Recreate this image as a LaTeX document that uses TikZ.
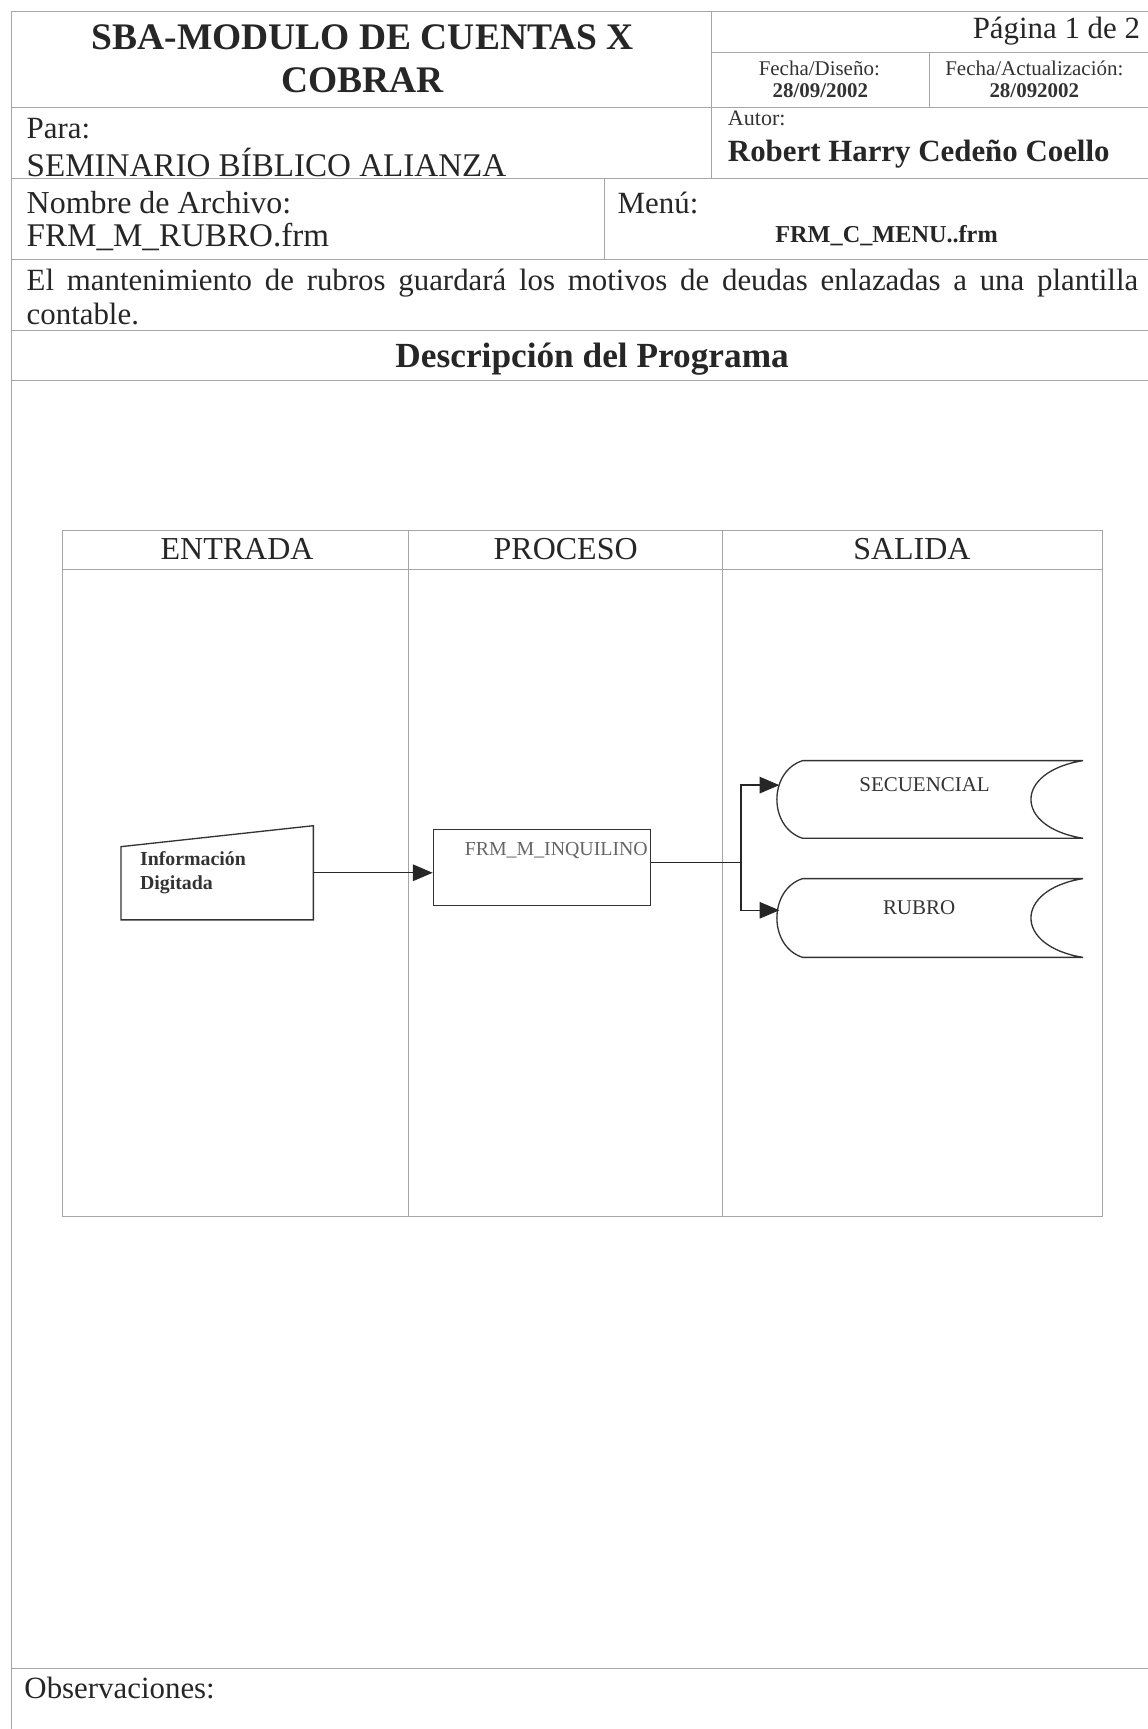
\documentclass[tikz,border=0pt]{standalone}
\usepackage{fontspec}
\setmainfont{Liberation Serif}
\usepackage{tikz}
\usetikzlibrary{arrows.meta, positioning}
\tikzstyle{rule} = [gray!70, line width=0.8pt]
\tikzstyle{outline} = [draw=black!80, line width=1.2pt]
\tikzstyle{arrow} = [black!85, line width=1.3pt, -{Triangle[length=18pt,width=15pt]}]
\tikzstyle{big} = [inner sep=0pt, text=black!85, font=\fontsize{29}{33}\selectfont]
\tikzstyle{small} = [inner sep=0pt, text=black!80, font=\fontsize{19}{22}\selectfont]
\tikzstyle{tiny} = [inner sep=0pt, text=black!80, font=\fontsize{18}{22}\selectfont]

\begin{document}
\begin{tikzpicture}[x=1pt, y=-1pt]
    \useasboundingbox (0,0) rectangle (1041,1568);

    % Page rules
    \draw[rule] (10,10) -- (1041,10);
    \draw[rule] (10,10) -- (10,1568);
    \draw[rule] (645,10) -- (645,162);
    \draw[rule] (645,48) -- (1041,48);
    \draw[rule] (843,48) -- (843,97);
    \draw[rule] (548,162) -- (548,235);
    \foreach \y in {97, 162, 235, 300, 345, 1513} {
        \draw[rule] (10,\y) -- (1041,\y);
    }

    % Header
    \node[big, align=center, font=\fontsize{34}{39}\selectfont\bfseries] (titulo) at (329,53) {SBA-MODULO DE CUENTAS X\\COBRAR};
    \node[big, anchor=east, font=\fontsize{28}{32}\selectfont] (pagina) at (1034,28) {Página 1 de 2};
    \node[small] (fdis) at (743,62) {Fecha/Diseño:};
    \node[small, font=\fontsize{19}{22}\selectfont\bfseries] (fdisv) at (744,82) {28/09/2002};
    \node[small] (fact) at (938,62) {Fecha/Actualización:};
    \node[small, font=\fontsize{19}{22}\selectfont\bfseries] (factv) at (938,82) {28/092002};

    \node[big, anchor=west, font=\fontsize{28}{32}\selectfont] (para) at (24,117) {Para:};
    \node[big, anchor=west, font=\fontsize{30}{34}\selectfont] (cliente) at (24,147) {SEMINARIO BÍBLICO ALIANZA};
    \node[small, anchor=west, font=\fontsize{20}{24}\selectfont] (autor) at (660,107) {Autor:};
    \node[big, anchor=west, font=\fontsize{28}{32}\selectfont\bfseries] (nombre) at (660,140) {Robert Harry Cedeño Coello};

    \node[big, anchor=west] (archivo) at (24,184) {Nombre de Archivo:};
    \node[big, anchor=west, font=\fontsize{30}{34}\selectfont] (archivov) at (24,215) {FRM\_M\_RUBRO.frm};
    \node[big, anchor=west, font=\fontsize{28}{32}\selectfont] (menu) at (560,184) {Menú:};
    \node[big, font=\fontsize{22}{26}\selectfont\bfseries] (menuv) at (804,214) {FRM\_C\_MENU..frm};

    \node[big, anchor=north west, text width=1008pt, align=justify, font=\fontsize{28}{31}\selectfont] (desc) at (24,244)
        {El mantenimiento de rubros guardará los motivos de deudas enlazadas a una plantilla \mbox{contable.}};
    \node[big, font=\fontsize{32}{36}\selectfont\bfseries] (descprog) at (537,326) {Descripción del Programa};

    % Diagram frame
    \draw[rule] (57,481) rectangle (1000,1103);
    \draw[rule] (57,516) -- (1000,516);
    \draw[rule] (370,481) -- (370,1103);
    \draw[rule] (655,481) -- (655,1103);
    \foreach \x/\name/\lab in {215/entrada/ENTRADA, 513/proceso/PROCESO, 827/salida/SALIDA} {
        \node[big] (\name) at (\x,498) {\lab};
    }

    % Entrada
    \node[tiny, font=\fontsize{18}{22}\selectfont\bfseries, minimum width=174pt, minimum height=85pt, text width=140pt, align=left] (info) at (197,791.5) {Información\\Digitada};
    \draw[outline] (info.south west) -- ([yshift=-19pt]info.north west) -- (info.north east) -- (info.south east) -- cycle;

    % Proceso
    \node[outline, minimum width=197pt, minimum height=69pt] (proc) at (491.5,786.5) {};
    \node[tiny, text=black!60] (proctext) at ([xshift=13pt,yshift=-20pt]proc.north) {FRM\_M\_INQUILINO};

    % Salida
    \node[minimum width=277pt, minimum height=70pt, inner sep=0pt] (secuencial) at (843.5,725) {};
    \node[minimum width=277pt, minimum height=71pt, inner sep=0pt] (rubro) at (843.5,832.5) {};
    \foreach \s in {secuencial, rubro} {
        \draw[outline] ([xshift=23pt]\s.south west)
            .. controls ([xshift=-8pt,yshift=10pt]\s.south west) and ([xshift=-8pt,yshift=-10pt]\s.north west) .. ([xshift=23pt]\s.north west)
            -- (\s.north east)
            .. controls ([xshift=-63pt,yshift=-10pt]\s.north east) and ([xshift=-63pt,yshift=10pt]\s.south east) .. (\s.south east)
            -- cycle;
    }
    \node[tiny, font=\fontsize{19}{22}\selectfont] (sectext) at ([xshift=-5pt,yshift=13pt]secuencial.center) {SECUENCIAL};
    \node[tiny, font=\fontsize{19}{22}\selectfont] (rubtext) at ([xshift=-10pt,yshift=9pt]rubro.center) {RUBRO};

    % Connectors
    \coordinate (fork) at (672,782);
    \draw[arrow] (info.east) -- (info.east -| proc.west);
    \draw[black!85, line width=1.3pt] ([yshift=4.5pt]proc.east) -- (fork);
    \draw[arrow] (fork) |- ([xshift=2pt,yshift=13pt]secuencial.west);
    \draw[arrow] (fork) |- ([xshift=2pt,yshift=7pt]rubro.west);

    % Observaciones
    \node[big, anchor=west, font=\fontsize{28}{32}\selectfont] (obs) at (22,1531) {Observaciones:};
\end{tikzpicture}
\end{document}
